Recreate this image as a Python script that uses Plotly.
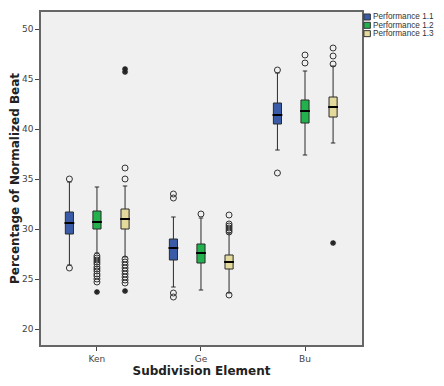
import plotly.graph_objects as go

categories = ["Ken", "Ge", "Bu"]
series = ["Performance 1.1", "Performance 1.2", "Performance 1.3"]
colors = ["#3a5ca8", "#22b14c", "#e4da9c"]

# per series: values for Ken, Ge, Bu
q1 = [[29.5, 26.9, 40.5], [30.0, 26.6, 40.6], [30.0, 26.0, 41.2]]
median = [[30.6, 28.1, 41.4], [30.7, 27.6, 41.8], [31.0, 26.7, 42.2]]
q3 = [[31.7, 29.0, 42.6], [31.8, 28.5, 42.9], [32.0, 27.4, 43.2]]
lowerfence = [[26.4, 24.2, 37.9], [27.6, 23.9, 37.4], [27.2, 23.6, 38.6]]
upperfence = [[34.7, 31.2, 45.6], [34.2, 31.1, 45.8], [34.3, 29.6, 46.3]]

# outliers (circles) per series per category
outliers = [
    [[35.0, 26.1], [33.5, 33.1, 23.6, 23.2], [45.9, 35.6]],
    [[27.3, 27.1, 26.9, 26.7, 26.5, 26.2, 26.0, 25.8, 25.5, 25.3, 25.0, 24.7],
     [31.5], [47.4, 46.6]],
    [[36.1, 35.0, 27.0, 26.7, 26.4, 26.1, 25.8, 25.5, 25.2, 24.9, 24.6],
     [31.4, 30.5, 30.3, 30.1, 29.9, 29.7, 23.4], [48.1, 47.3, 46.5]],
]
# extreme values (asterisks)
extremes = [
    [[], [], []],
    [[23.7], [], []],
    [[23.8, 45.7, 46.0], [], [28.6]],
]

offsets = [-0.265, 0.0, 0.27]
box_w = 0.078

fig = go.Figure()
for j, name in enumerate(series):
    xs = [i + offsets[j] for i in range(len(categories))]
    fig.add_trace(go.Box(
        x=xs, q1=q1[j], median=median[j], q3=q3[j],
        lowerfence=lowerfence[j], upperfence=upperfence[j],
        width=box_w, whiskerwidth=0.55,
        fillcolor=colors[j], line=dict(color="#2a2a2a", width=1),
        boxpoints=False, showlegend=False, hoverinfo="skip",
    ))
    # thick median lines
    fig.add_trace(go.Scatter(
        x=xs, y=median[j], mode="markers", showlegend=False, hoverinfo="skip",
        marker=dict(symbol="line-ew", size=7, line=dict(color="black", width=2)),
    ))
    ox, oy = [], []
    for i in range(len(categories)):
        for v in outliers[j][i]:
            ox.append(xs[i]); oy.append(v)
    fig.add_trace(go.Scatter(
        x=ox, y=oy, mode="markers", showlegend=False, hoverinfo="skip",
        marker=dict(symbol="circle-open", size=6, color="#333333", line=dict(width=1)),
    ))
    ex, ey = [], []
    for i in range(len(categories)):
        for v in extremes[j][i]:
            ex.append(xs[i]); ey.append(v)
    if ex:
        fig.add_trace(go.Scatter(
            x=ex, y=ey, mode="markers", showlegend=False, hoverinfo="skip",
            marker=dict(symbol="asterisk-open", size=5, color="#222222", line=dict(width=1.3)),
        ))

# manual legend (paper coordinates)
shapes = []
annotations = []
for j, name in enumerate(series):
    yc = 0.985 - j * 0.025
    shapes.append(dict(type="rect", xref="paper", yref="paper",
                       x0=1.006, x1=1.026, y0=yc - 0.009, y1=yc + 0.009,
                       fillcolor=colors[j], line=dict(color="#333333", width=1)))
    annotations.append(dict(xref="paper", yref="paper", x=1.029, y=yc,
                            xanchor="left", yanchor="middle", text=name, showarrow=False,
                            font=dict(family="Liberation Sans", size=8.2, color="#333333")))

# The page body has an 8px default margin: the figure is sized/offset to match
# and kept small enough that no scrollbar appears.
fig.update_layout(
    width=436, height=370,
    margin=dict(l=33, r=82, t=4, b=33, autoexpand=False),
    paper_bgcolor="white", plot_bgcolor="#f0f0f0",
    font=dict(family="DejaVu Sans", size=9, color="#444444"),
    showlegend=False, shapes=shapes, annotations=annotations,
)
fig.update_xaxes(
    range=[-0.538, 2.548], tickvals=list(range(len(categories))), ticktext=categories,
    showgrid=False, zeroline=False, showline=True, linecolor="#666666", linewidth=1.5,
    mirror=True, ticks="outside", ticklen=4, tickcolor="#444444", automargin=False,
    title=dict(text="<b>Subdivision Element</b>", font=dict(size=12, color="#222222"), standoff=6),
)
fig.update_yaxes(
    range=[18.4, 51.7], tickvals=[20, 25, 30, 35, 40, 45, 50],
    showgrid=False, zeroline=False, showline=True, linecolor="#666666", linewidth=1.5,
    mirror=True, ticks="outside", ticklen=4, tickcolor="#444444", automargin=False,
    title=dict(text="<b>Percentage of Normalized Beat</b>", font=dict(size=12, color="#222222"), standoff=1),
)
fig.write_html("out.html")
